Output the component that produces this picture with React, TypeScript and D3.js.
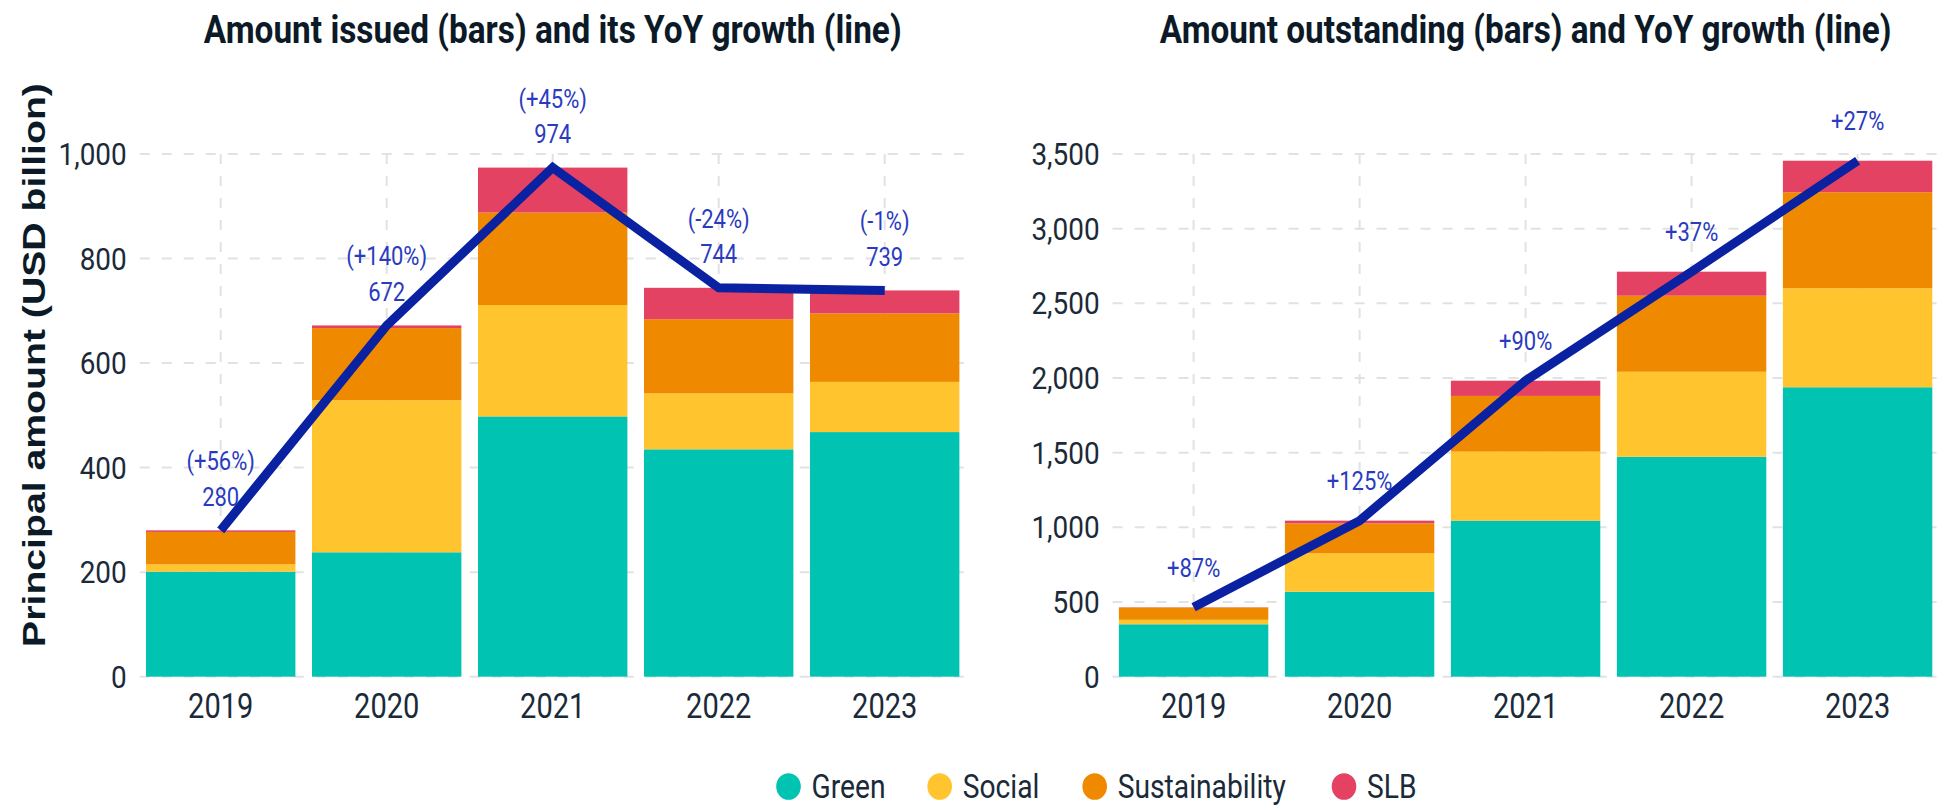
import React, { useLayoutEffect, useRef, useState } from "react";
import * as d3 from "d3";

// values (USD billion)
const years = ["2019", "2020", "2021", "2022", "2023"];
const keys = ["green", "social", "sustainability", "slb"];
const legendLabels = ["Green", "Social", "Sustainability", "SLB"];
const colors = ["#00c3b2", "#ffc42e", "#ef8a00", "#e34262"];

const issuedGreen = [201, 238, 498, 435, 468];
const issuedSocial = [14, 291, 213, 107, 96];
const issuedSust = [62, 138, 177, 142, 131];
const issuedSlb = [3, 5, 86, 60, 44];
const issuedGrowth = ["(+56%)", "(+140%)", "(+45%)", "(-24%)", "(-1%)"];
const issuedTicks = [0, 200, 400, 600, 800, 1000];

const outGreen = [351, 569, 1045, 1473, 1938];
const outSocial = [30, 257, 462, 569, 663];
const outSust = [82, 201, 373, 509, 643];
const outSlb = [2, 18, 102, 161, 211];
const outGrowth = ["+87%", "+125%", "+90%", "+37%", "+27%"];
const outTicks = [0, 500, 1000, 1500, 2000, 2500, 3000, 3500];

const TXT = "#1b2a38";
const LABEL = "#2a3bbf";
const LINE = "#0a21a1";
const GRID = "#e2e2e2";

function rows(g, s, u, l) {
  return years.map((y, i) => ({ year: y, green: g[i], social: s[i], sustainability: u[i], slb: l[i] }));
}

function T({ x, y, sx = 1, size, anchor = "middle", weight = 400, fill = TXT, family = "Roboto", children }) {
  return (
    <text
      transform={`translate(${x},${y}) scale(${sx},1)`}
      textAnchor={anchor}
      fontSize={size}
      fontWeight={weight}
      fill={fill}
      fontFamily={family}
    >
      {children}
    </text>
  );
}

// text squeezed / stretched along its run to a measured width
function FitText({ x, y, width, size, rotate = 0, weight = 700, family = "Roboto", fill = "#0c1a28", children }) {
  const ref = useRef(null);
  const [s, setS] = useState(1);
  useLayoutEffect(() => {
    const w = ref.current.getComputedTextLength();
    if (w > 0) setS(width / w);
  }, [width]);
  return (
    <text ref={ref} transform={`translate(${x},${y}) rotate(${rotate}) scale(${s},1)`}
      textAnchor="middle" fontSize={size} fontWeight={weight} fontFamily={family} fill={fill}>
      {children}
    </text>
  );
}

function Panel({ data, x0, x1, max, ticks, title, titleLen, growth, showValue }) {
  const x = d3.scaleBand().domain(years).range([x0, x1]).paddingInner(0.1).paddingOuter(0.05);
  const y = d3.scaleLinear().domain([0, max]).range([676.7, 154]);
  const series = d3.stack().keys(keys)(data);
  const totals = data.map(d => keys.reduce((a, k) => a + d[k], 0));
  const cx = d => x(d) + x.bandwidth() / 2;
  const line = d3.line().x((d, i) => cx(years[i])).y(d => y(d));
  const fmt = d3.format(",");
  const mid = (x0 + x1) / 2;

  return (
    <g>
      <FitText x={mid} y={43} size={38} width={titleLen}>{title}</FitText>
      {ticks.map(t => (
        <g key={t}>
          <line x1={x0 + 2} x2={Math.min(x1 - 2, 1937)} y1={y(t)} y2={y(t)} stroke={GRID} strokeWidth={2} strokeDasharray="10,12" />
          <T x={x0 - 11} y={y(t) + 11} size={31} sx={0.9} anchor="end">{fmt(t)}</T>
        </g>
      ))}
      {years.map(yr => (
        <line key={yr} x1={cx(yr)} x2={cx(yr)} y1={y(max)} y2={y(0)} stroke={GRID} strokeWidth={2} strokeDasharray="10,12" />
      ))}
      {series.map((s, si) => (
        <g key={s.key} fill={colors[si]}>
          {s.map((d, i) => (
            <rect key={i} x={x(years[i])} width={x.bandwidth()} y={y(d[1])} height={Math.max(0, y(d[0]) - y(d[1]))} />
          ))}
        </g>
      ))}
      <path d={line(totals)} fill="none" stroke={LINE} strokeWidth={9} />
      {years.map(yr => (
        <T key={yr} x={cx(yr)} y={718} size={35} sx={0.83}>{yr}</T>
      ))}
      {years.map((yr, i) =>
        showValue ? (
          <g key={yr}>
            <T x={cx(yr)} y={y(totals[i]) - 60} size={25} sx={0.88} fill={LABEL}>{growth[i]}</T>
            <T x={cx(yr)} y={y(totals[i]) - 24.5} size={25} sx={0.88} fill={LABEL}>{totals[i]}</T>
          </g>
        ) : (
          <T key={yr} x={cx(yr)} y={y(totals[i]) - 30.5} size={25} sx={0.88} fill={LABEL}>{growth[i]}</T>
        )
      )}
    </g>
  );
}

const legendX = [788.5, 939.7, 1094.7, 1344];

export default function App() {
  const issued = rows(issuedGreen, issuedSocial, issuedSust, issuedSlb);
  const outstanding = rows(outGreen, outSocial, outSust, outSlb);
  return (
    <svg width={1937} height={808} style={{ position: "absolute", left: 0, top: 0, background: "#fff" }}>
      <Panel data={issued} x0={137.7} x1={967.7} max={1000} ticks={issuedTicks}
        title="Amount issued (bars) and its YoY growth (line)" titleLen={698} growth={issuedGrowth} showValue />
      <Panel data={outstanding} x0={1110.6} x1={1940.6} max={3500} ticks={outTicks}
        title="Amount outstanding (bars) and YoY growth (line)" titleLen={732} growth={outGrowth} showValue={false} />
      <FitText x={45} y={365} rotate={-90} size={32} width={564} family="Liberation Sans">
        Principal amount (USD billion)
      </FitText>
      {legendLabels.map((l, i) => (
        <g key={l}>
          <ellipse cx={legendX[i]} cy={786.5} rx={12.3} ry={13.3} fill={colors[i]} />
          <T x={legendX[i] + 23} y={798} size={34} sx={0.83} anchor="start">{l}</T>
        </g>
      ))}
    </svg>
  );
}
